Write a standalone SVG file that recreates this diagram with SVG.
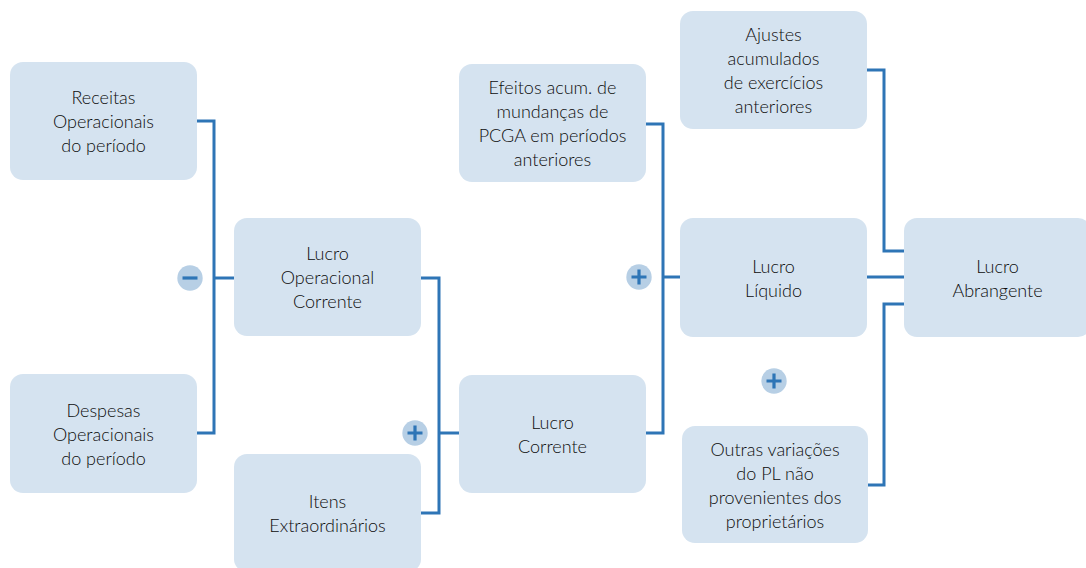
<svg xmlns="http://www.w3.org/2000/svg" width="1086" height="568" viewBox="0 0 1086 568">
<style>
.box{fill:#d5e3f0}
.t{font-family:Lato,"Liberation Sans",sans-serif;font-size:18px;font-weight:300;fill:#0d0d0d;text-anchor:middle}
.ln{fill:none;stroke:#2e75b6;stroke-width:3}
.op{fill:#b7cfe5}
.sym{stroke:#2e75b6;stroke-width:3.2;fill:none}
</style>
<rect width="1086" height="568" fill="#ffffff"/>
<g id="connectors">
<path class="ln" d="M197,121 H214 V433 H197"/>
<path class="ln" d="M214,278 H234"/>
<path class="ln" d="M421,278 H439 V513 H421"/>
<path class="ln" d="M439,433 H459"/>
<path class="ln" d="M646,124 H663 V433 H646"/>
<path class="ln" d="M663,277 H680"/>
<path class="ln" d="M867,70 H884 V251 H904"/>
<path class="ln" d="M867,277 H904"/>
<path class="ln" d="M904,304 H884 V485 H868"/>
</g>
<g id="op-minus"><circle class="op" cx="190" cy="278" r="12.7"/><path class="sym" d="M182.5,278 H197.5"/></g>
<g id="op-plus1"><circle class="op" cx="415" cy="433" r="12.7"/><path class="sym" d="M407.5,433 H422.5 M415,425.5 V440.5"/></g>
<g id="op-plus2"><circle class="op" cx="639" cy="277" r="12.7"/><path class="sym" d="M631.5,277 H646.5 M639,269.5 V284.5"/></g>
<g id="op-plus3"><circle class="op" cx="774" cy="381" r="12.7"/><path class="sym" d="M766.5,381 H781.5 M774,373.5 V388.5"/></g>
<g id="receitas"><rect class="box" x="10" y="62" width="187" height="118" rx="13"/>
<text class="t" x="103.5" y="104">Receitas</text><text class="t" x="103.5" y="128">Operacionais</text><text class="t" x="103.5" y="152">do período</text></g>
<g id="despesas"><rect class="box" x="10" y="374" width="187" height="119" rx="13"/>
<text class="t" x="103.5" y="416.5">Despesas</text><text class="t" x="103.5" y="440.5">Operacionais</text><text class="t" x="103.5" y="464.5">do período</text></g>
<g id="lucro-operacional"><rect class="box" x="234" y="218" width="187" height="118" rx="13"/>
<text class="t" x="327.5" y="260">Lucro</text><text class="t" x="327.5" y="284">Operacional</text><text class="t" x="327.5" y="308">Corrente</text></g>
<g id="itens"><rect class="box" x="234" y="454" width="187" height="118" rx="13"/>
<text class="t" x="327.5" y="508">Itens</text><text class="t" x="327.5" y="532">Extraordinários</text></g>
<g id="lucro-corrente"><rect class="box" x="459" y="375" width="187" height="118" rx="13"/>
<text class="t" x="552.5" y="429">Lucro</text><text class="t" x="552.5" y="453">Corrente</text></g>
<g id="efeitos"><rect class="box" x="459" y="64" width="187" height="118" rx="13"/>
<text class="t" x="552.5" y="94">Efeitos acum. de</text><text class="t" x="552.5" y="118">mundanças de</text><text class="t" x="552.5" y="142">PCGA em períodos</text><text class="t" x="552.5" y="166">anteriores</text></g>
<g id="ajustes"><rect class="box" x="680" y="11" width="187" height="118" rx="13"/>
<text class="t" x="773.5" y="41">Ajustes</text><text class="t" x="773.5" y="65">acumulados</text><text class="t" x="773.5" y="89">de exercícios</text><text class="t" x="773.5" y="113">anteriores</text></g>
<g id="lucro-liquido"><rect class="box" x="680" y="218" width="187" height="119" rx="13"/>
<text class="t" x="773.5" y="273">Lucro</text><text class="t" x="773.5" y="297">Líquido</text></g>
<g id="outras"><rect class="box" x="682" y="426" width="186" height="117" rx="13"/>
<text class="t" x="775" y="456">Outras variações</text><text class="t" x="775" y="480">do PL não</text><text class="t" x="775" y="504">provenientes dos</text><text class="t" x="775" y="528">proprietários</text></g>
<g id="lucro-abrangente"><rect class="box" x="904" y="218" width="187" height="119" rx="13"/>
<text class="t" x="997.5" y="273">Lucro</text><text class="t" x="997.5" y="297">Abrangente</text></g>
</svg>
